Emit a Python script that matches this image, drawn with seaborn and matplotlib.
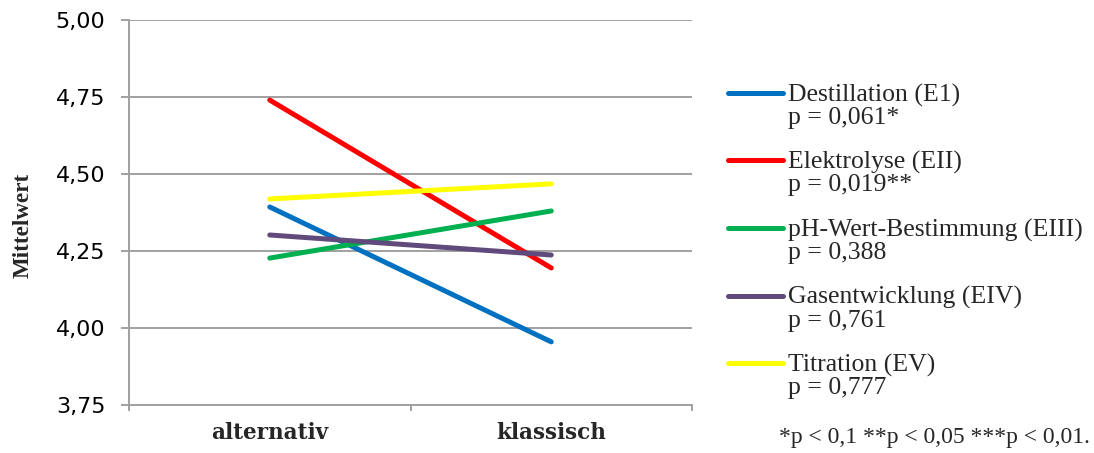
import matplotlib
matplotlib.use("Agg")
import matplotlib.pyplot as plt
from matplotlib.lines import Line2D
from matplotlib.ticker import FixedLocator, FixedFormatter
import seaborn as sns
import pandas as pd

# Data
conditions = ["alternativ", "klassisch"]
experiments = ["Destillation (E1)", "Elektrolyse (EII)", "pH-Wert-Bestimmung (EIII)",
               "Gasentwicklung (EIV)", "Titration (EV)"]
p_labels = ["p = 0,061*", "p = 0,019**", "p = 0,388", "p = 0,761", "p = 0,777"]
alt_means = [4.393, 4.740, 4.227, 4.302, 4.419]
klass_means = [3.955, 4.195, 4.380, 4.237, 4.468]
y_ticks = [3.75, 4.00, 4.25, 4.50, 4.75, 5.00]
y_tick_labels = ["3,75", "4,00", "4,25", "4,50", "4,75", "5,00"]
footnote = "*p < 0,1 **p < 0,05 ***p < 0,01."

colors = ["#0070C0", "#FF0000", "#00B050", "#604A7B", "#FFFF00"]

rows = []
for exp, a, k in zip(experiments, alt_means, klass_means):
    rows.append({"Bedingung": conditions[0], "Experiment": exp, "Mittelwert": a})
    rows.append({"Bedingung": conditions[1], "Experiment": exp, "Mittelwert": k})
df = pd.DataFrame(rows)

sns.set_theme(style="white")
plt.rcParams["font.family"] = ["DejaVu Sans"]

fig = plt.figure(figsize=(10.94, 4.53), dpi=100)
ax = fig.add_axes([129 / 1094, 1 - 405 / 453, (692 - 129) / 1094, (405 - 20) / 453])

sns.lineplot(data=df, x="Bedingung", y="Mittelwert", hue="Experiment",
             hue_order=experiments, palette=colors, linewidth=3.6,
             solid_capstyle="round", legend=False, ax=ax, sort=False)

grid_color = "#A0A0A0"
ax.set_xlim(-0.5, 1.5)
ax.set_ylim(3.75, 5.0)
ax.yaxis.set_major_locator(FixedLocator(y_ticks))
ax.yaxis.set_major_formatter(FixedFormatter(y_tick_labels))
ax.grid(axis="y", color=grid_color, linewidth=1.4)
ax.set_axisbelow(True)
for side in ["top", "right"]:
    ax.spines[side].set_visible(False)
for side in ["left", "bottom"]:
    ax.spines[side].set_color(grid_color)
    ax.spines[side].set_linewidth(1.4)

ax.tick_params(axis="y", which="major", left=True, length=6, width=1.4,
               color=grid_color, pad=11, labelsize=16, labelcolor="#000000")
ax.set_xticks([0, 1])
ax.set_xticklabels(conditions, fontfamily="DejaVu Serif", fontweight="bold",
                   fontsize=15.5)
ax.set_xticks([-0.5, 0.5, 1.5], minor=True)
ax.tick_params(axis="x", which="major", bottom=False, length=0, pad=12)
ax.tick_params(axis="x", which="minor", bottom=True, length=4, width=1.4,
               color=grid_color)
ax.set_xlabel("")
ax.set_ylabel("Mittelwert", fontfamily="Liberation Serif", fontweight="bold",
              fontsize=16.6, va="center")
ax.yaxis.set_label_coords(-0.189, 0.4675)

# Legend: line handle beside the name, p-value on the line below
leg_top = 1 - 93 / 453
step = 67.5 / 453
for i, (name, p, c) in enumerate(zip(experiments, p_labels, colors)):
    y = leg_top - i * step
    fig.add_artist(Line2D([728 / 1094, 783 / 1094], [y, y], color=c,
                          linewidth=3.6, solid_capstyle="round",
                          transform=fig.transFigure))
    fig.text(788 / 1094, y - 2 / 453, name, fontfamily="Liberation Serif",
             fontsize=18.5, va="center", ha="left")
    fig.text(788 / 1094, y - 25 / 453, p, fontfamily="Liberation Serif",
             fontsize=18.5, va="center", ha="left")

fig.text(1090 / 1094, 1 - 437 / 453, footnote, fontfamily="Liberation Serif",
         fontsize=17, va="center", ha="right")

fig.savefig("out.png", dpi=100, facecolor="white")
